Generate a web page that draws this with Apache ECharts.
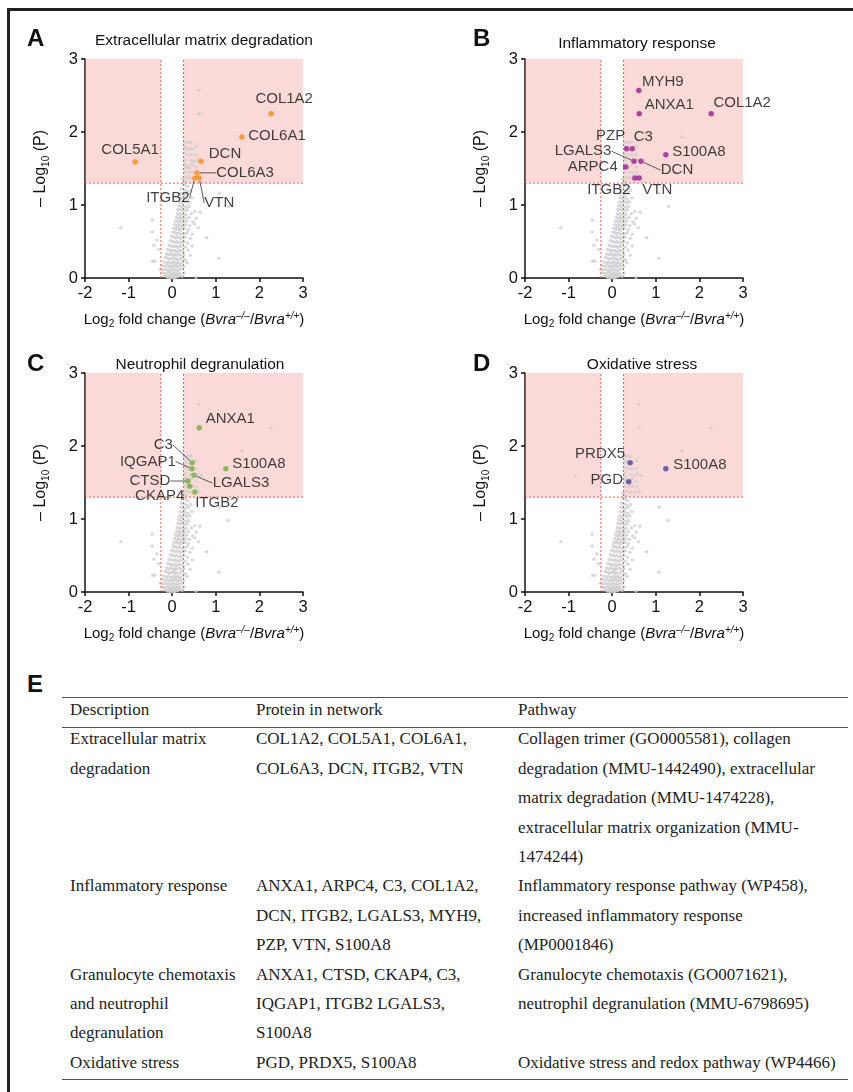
<!DOCTYPE html>
<html>
<head>
<meta charset="utf-8">
<script src="https://cdn.jsdelivr.net/npm/echarts@6/dist/echarts.min.js"></script>
<style>
  body { margin:0; background:#fff; }
  #frame { position:absolute; left:7px; top:8px; width:846px; height:1084px; border-top:3px solid #222; border-left:3px solid #222; }
  #chart { position:absolute; left:0; top:0; width:853px; height:660px; }
  .letter { position:absolute; font-family:"Liberation Sans", Arial, sans-serif; font-weight:bold; font-size:24px; color:#111; }
  .rule { position:absolute; left:62px; width:786px; height:0; border-top:1.5px solid #555; }
  #tbl { position:absolute; left:62px; top:695px; border-collapse:collapse; font-family:"Liberation Serif", "Times New Roman", serif; font-size:17px; color:#222; line-height:29.4px; }
  #tbl td { padding:0 0 0 8px; vertical-align:top; white-space:nowrap; }
</style>
</head>
<body>
<div id="frame"></div>
<div id="chart"></div>
<div class="letter" style="left:27px;top:670px;">E</div>
<div class="rule" style="top:697px;"></div>
<div class="rule" style="top:727px;"></div>
<div class="rule" style="top:1079px;"></div>
<table id="tbl"></table>
<script>
// ---------------- data ----------------
const xTicks = [-2, -1, 0, 1, 2, 3];
const yTicks = [0, 1, 2, 3];
const fcCut = 0.26;      // |log2 FC| threshold
const pCut = 1.3;        // -log10(P) threshold

const proteinNames = ['COL1A2','COL6A1','COL5A1','DCN','COL6A3','ITGB2','VTN','MYH9','ANXA1','PZP','C3','LGALS3','ARPC4','S100A8','IQGAP1','CTSD','CKAP4','PRDX5','PGD'];
const proteinFC    = [2.27, 1.60, -0.85, 0.66, 0.57, 0.52, 0.62, 0.61, 0.62, 0.33, 0.46, 0.50, 0.31, 1.23, 0.45, 0.36, 0.40, 0.41, 0.38];
const proteinP     = [2.25, 1.93, 1.59, 1.60, 1.44, 1.37, 1.37, 2.57, 2.25, 1.77, 1.77, 1.60, 1.52, 1.69, 1.69, 1.52, 1.45, 1.77, 1.51];

// other significant (unlabelled) proteins
const otherSigPoints = [[0.28,1.86],[0.36,1.86],[0.43,1.86],[0.30,1.80],[0.55,1.80],[0.28,1.71],[0.36,1.69],[0.55,1.69],[0.29,1.62],[0.42,1.61],[0.58,1.62],[0.30,1.56],[0.45,1.55],[0.55,1.52],[0.29,1.45],[0.47,1.45],[0.33,1.38],[0.42,1.37],[0.30,1.33],[0.24,1.35]];

// non-significant proteins [log2FC, -log10P]
const backgroundPoints = [
[0.24,1.29],[0.30,1.27],[0.36,1.25],[0.21,1.22],[0.27,1.21],[0.33,1.19],[0.42,1.2],
[0.19,1.16],[0.24,1.15],[0.30,1.14],[0.37,1.16],[1.08,1.16],
[0.18,1.1],[0.23,1.09],[0.28,1.1],[0.35,1.08],[0.45,1.1],
[0.17,1.04],[0.22,1.03],[0.27,1.05],[0.33,1.03],[0.40,1.04],
[0.15,0.99],[0.20,0.98],[0.25,0.99],[0.31,0.97],[0.38,0.98],[1.29,0.98],
[0.13,0.94],[0.18,0.93],[0.23,0.94],[0.29,0.92],[0.35,0.93],[0.52,0.91],[0.64,0.9],
[0.12,0.88],[0.16,0.87],[0.21,0.88],[0.26,0.86],[0.32,0.87],[0.44,0.88],
[0.10,0.83],[0.15,0.82],[0.19,0.83],[0.24,0.81],[0.29,0.82],[0.38,0.83],[0.55,0.82],
[-0.46,0.79],[0.08,0.78],[0.13,0.77],[0.17,0.78],[0.22,0.76],[0.27,0.77],[0.34,0.78],[0.47,0.77],
[0.06,0.73],[0.11,0.72],[0.15,0.73],[0.20,0.71],[0.25,0.72],[0.31,0.73],[0.40,0.72],[0.52,0.74],
[-1.18,0.69],[0.04,0.68],[0.09,0.67],[0.13,0.68],[0.18,0.66],[0.23,0.67],[0.29,0.68],[0.37,0.66],[0.60,0.69],
[-0.46,0.63],[0.02,0.63],[0.07,0.62],[0.11,0.61],[0.16,0.62],[0.21,0.6],[0.27,0.61],[0.34,0.62],[0.46,0.6],
[-0.01,0.57],[0.04,0.56],[0.09,0.55],[0.14,0.56],[0.19,0.54],[0.24,0.55],[0.30,0.56],[0.41,0.54],[0.79,0.55],
[-0.35,0.52],[-0.04,0.51],[0.01,0.5],[0.06,0.49],[0.11,0.5],[0.16,0.48],[0.21,0.49],[0.27,0.5],[0.35,0.48],
[-0.42,0.45],[-0.07,0.45],[-0.02,0.44],[0.03,0.43],[0.08,0.44],[0.12,0.42],[0.17,0.43],[0.22,0.44],[0.30,0.42],[0.46,0.44],
[-0.31,0.39],[-0.10,0.39],[-0.05,0.38],[0.0,0.37],[0.05,0.38],[0.09,0.36],[0.14,0.37],[0.19,0.38],[0.25,0.36],[0.36,0.38],
[-0.13,0.33],[-0.08,0.32],[-0.03,0.33],[0.02,0.31],[0.06,0.32],[0.10,0.31],[0.15,0.33],[0.20,0.31],[0.27,0.32],[0.41,0.31],
[-0.16,0.28],[-0.11,0.27],[-0.06,0.26],[-0.01,0.27],[0.03,0.26],[0.07,0.27],[0.11,0.25],[0.16,0.26],[0.22,0.27],[0.30,0.25],[1.07,0.27],
[-0.45,0.23],[-0.40,0.23],[-0.19,0.22],[-0.13,0.21],[-0.08,0.22],[-0.03,0.2],[0.01,0.21],[0.05,0.22],[0.09,0.2],[0.13,0.21],[0.18,0.2],[0.24,0.22],[0.34,0.21],
[-0.23,0.17],[-0.17,0.16],[-0.11,0.17],[-0.06,0.15],[-0.02,0.16],[0.02,0.15],[0.06,0.17],[0.10,0.16],[0.14,0.15],[0.19,0.17],[0.26,0.16],
[-0.27,0.12],[-0.20,0.11],[-0.14,0.12],[-0.09,0.1],[-0.05,0.11],[-0.01,0.1],[0.03,0.12],[0.07,0.11],[0.11,0.1],[0.15,0.11],[0.21,0.12],
[-0.22,0.07],[-0.16,0.06],[-0.11,0.07],[-0.06,0.06],[-0.02,0.05],[0.02,0.07],[0.06,0.06],[0.10,0.05],[0.14,0.07],[0.19,0.06],[0.27,0.07],
[-0.18,0.03],[-0.12,0.02],[-0.07,0.03],[-0.03,0.02],[0.01,0.03],[0.05,0.02],[0.09,0.03],[0.13,0.02],[0.17,0.03],[0.24,0.02],
[-0.10,0.01],[-0.04,0.0],[0.0,0.01],[0.04,0.0],[0.08,0.01],[0.55,0.01]
];

const panelLetters = ['A','B','C','D'];
const panelTitles = ['Extracellular matrix degradation','Inflammatory response','Neutrophil degranulation','Oxidative stress'];
const panelProteins = [
  ['COL1A2','COL6A1','COL5A1','DCN','COL6A3','ITGB2','VTN'],
  ['MYH9','ANXA1','COL1A2','PZP','C3','LGALS3','DCN','ARPC4','ITGB2','VTN','S100A8'],
  ['ANXA1','C3','IQGAP1','LGALS3','CTSD','CKAP4','ITGB2','S100A8'],
  ['PRDX5','PGD','S100A8']
];

const tableHeader = ['Description','Protein in network','Pathway'];
const tableRows = [
  [['Extracellular matrix','degradation'], ['COL1A2, COL5A1, COL6A1,','COL6A3, DCN, ITGB2, VTN'], ['Collagen trimer (GO0005581), collagen','degradation (MMU-1442490), extracellular','matrix degradation (MMU-1474228),','extracellular matrix organization (MMU-','1474244)']],
  [['Inflammatory response'], ['ANXA1, ARPC4, C3, COL1A2,','DCN, ITGB2, LGALS3, MYH9,','PZP, VTN, S100A8'], ['Inflammatory response pathway (WP458),','increased inflammatory response','(MP0001846)']],
  [['Granulocyte chemotaxis','and neutrophil','degranulation'], ['ANXA1, CTSD, CKAP4, C3,','IQGAP1, ITGB2 LGALS3,','S100A8'], ['Granulocyte chemotaxis (GO0071621),','neutrophil degranulation (MMU-6798695)']],
  [['Oxidative stress'], ['PGD, PRDX5, S100A8'], ['Oxidative stress and redox pathway (WP4466)']]
];

// ---------------- styling / layout (not data) ----------------
const panelColors = ['#f7901e', '#a1208f', '#74b044', '#4b479f'];
const grids = [
  {left:85, top:59, width:218, height:219},
  {left:525, top:59, width:218, height:219},
  {left:85, top:373, width:218, height:219},
  {left:525, top:373, width:218, height:219}
];
const titlePos = [[199,28],[632,31],[195,352],[637,352]];
const letterPos = [[27,27],[473,27],[27,352],[473,352]];
// label offsets (px) from point, and whether a leader line is drawn
const labelOffsets = [
  [[13,-15],[35,-1],[-5,-12],[24,-7],[48,0],[-27,20],[20,25]],
  [[24,-9],[30,-9],[31,-11],[-16,-13],[11,-12],[-51,-10],[36,9],[-33,0],[-26,12],[18,12],[33,-3]],
  [[31,-9],[-29,-18],[-44,-7],[47,8],[-38,0],[-30,10],[22,11],[33,-5]],
  [[-30,-9],[-22,-2],[34,-4]]
];
const leaderLines = [
  [0,0,0,0,1,1,1],
  [0,0,0,0,0,1,1,0,0,0,0],
  [0,1,1,1,1,0,0,0],
  [0,0,0]
];

const FONT = '"Liberation Sans", Arial, sans-serif';
const RED = '#ef5b5b';
const chart = echarts.init(document.getElementById('chart'), null, {renderer:'canvas'});

const allNamedPoints = proteinNames.map((n, i) => [proteinFC[i], proteinP[i]]);
const greyData = backgroundPoints.concat(otherSigPoints, allNamedPoints);
const xMin = xTicks[0], xMax = xTicks[xTicks.length-1];
const yMin = yTicks[0], yMax = yTicks[yTicks.length-1];

const option = {
  animation: false,
  textStyle: {fontFamily: FONT},
  grid: grids,
  title: panelTitles.map((t, i) => ({
    text: t, left: titlePos[i][0], top: titlePos[i][1], textAlign: 'center',
    textStyle: {fontFamily: FONT, fontSize: 15.5, fontWeight: 'normal', color: '#111'}
  })),
  graphic: panelLetters.map((l, i) => ({
    type: 'text', left: letterPos[i][0], top: letterPos[i][1],
    style: {text: l, font: 'bold 24px ' + FONT, fill: '#111'}
  })),
  xAxis: grids.map((g, i) => ({
    type: 'value', gridIndex: i, min: xMin, max: xMax, interval: 1,
    axisLine: {show: true, onZero: false, lineStyle: {color: '#111', width: 1.5}},
    axisTick: {show: true, length: 4, lineStyle: {color: '#111', width: 1.5}},
    splitLine: {show: false},
    axisLabel: {fontSize: 16.5, color: '#111', margin: 7, fontFamily: FONT},
    name: 'Log{sub|2} fold change ({i|Bvra}{sup|–/–}/{i|Bvra}{sup|+/+})',
    nameLocation: 'middle', nameGap: 33,
    nameTextStyle: {fontSize: 15, color: '#111', fontFamily: FONT, lineHeight: 18,
      rich: {
        sub: {fontSize: 10, lineHeight: 10, verticalAlign: 'bottom', color: '#111'},
        i: {fontSize: 15, fontStyle: 'italic', color: '#111'},
        sup: {fontSize: 10, lineHeight: 10, verticalAlign: 'top', fontStyle: 'italic', color: '#111'}
      }}
  })),
  yAxis: grids.map((g, i) => ({
    type: 'value', gridIndex: i, min: yMin, max: yMax, interval: 1,
    axisLine: {show: true, onZero: false, lineStyle: {color: '#111', width: 1.5}},
    axisTick: {show: true, length: 4, lineStyle: {color: '#111', width: 1.5}},
    splitLine: {show: false},
    axisLabel: {fontSize: 16.5, color: '#111', margin: 7, fontFamily: FONT},
    name: '– Log{sub|10} (P)',
    nameLocation: 'middle', nameGap: 34,
    nameTextStyle: {fontSize: 16, color: '#111', fontFamily: FONT, lineHeight: 20,
      rich: {sub: {fontSize: 10, lineHeight: 10, verticalAlign: 'bottom', color: '#111'}}}
  })),
  series: []
};

const thresholdLines = [
  [[-fcCut, yMin], [-fcCut, yMax]],
  [[fcCut, yMin], [fcCut, yMax]],
  [[xMin, pCut], [xMax, pCut]]
];

grids.forEach((g, i) => {
  // all proteins in grey
  option.series.push({
    type: 'scatter', xAxisIndex: i, yAxisIndex: i, z: 1, silent: true,
    symbolSize: 3.5, itemStyle: {color: '#cfcfcf'},
    data: greyData
  });
  // significance areas (drawn over grey)
  option.series.push({
    type: 'scatter', xAxisIndex: i, yAxisIndex: i, z: 2, silent: true, data: [],
    markArea: {
      silent: true,
      itemStyle: {color: 'rgba(238,128,128,0.30)'},
      data: [
        [{coord: [xMin, pCut]}, {coord: [-fcCut, yMax]}],
        [{coord: [fcCut, pCut]}, {coord: [xMax, yMax]}]
      ]
    }
  });
  // threshold lines
  thresholdLines.forEach(seg => {
    option.series.push({
      type: 'line', xAxisIndex: i, yAxisIndex: i, z: 2, silent: true,
      symbol: 'none', data: seg,
      lineStyle: {color: RED, type: [2, 2], width: 1},
      itemStyle: {color: RED}
    });
  });
  // highlighted proteins
  const names = panelProteins[i];
  option.series.push({
    type: 'scatter', xAxisIndex: i, yAxisIndex: i, z: 3,
    symbolSize: 5.5, itemStyle: {color: panelColors[i]},
    label: {show: true, position: 'inside', formatter: '{b}', fontSize: 15, color: '#111', fontFamily: FONT},
    labelLine: {show: true, lineStyle: {color: '#333', width: 0.8}},
    labelLayout: (p) => {
      const o = labelOffsets[i][p.dataIndex];
      return {dx: o[0], dy: o[1]};
    },
    data: names.map((n, k) => {
      const idx = proteinNames.indexOf(n);
      return {name: n, value: [proteinFC[idx], proteinP[idx]],
              labelLine: {show: !!leaderLines[i][k]}};
    })
  });
});

chart.setOption(option);

// table
const tbl = document.getElementById('tbl');
const colW = [178, 254, 330];
let html = '<tr>' + tableHeader.map((h, c) => `<td style="width:${colW[c]}px">${h}</td>`).join('') + '</tr>';
tableRows.forEach(r => {
  html += '<tr>' + r.map((cell, c) => `<td style="width:${colW[c]}px">${cell.join('<br>')}</td>`).join('') + '</tr>';
});
tbl.innerHTML = html;
</script>
</body>
</html>
